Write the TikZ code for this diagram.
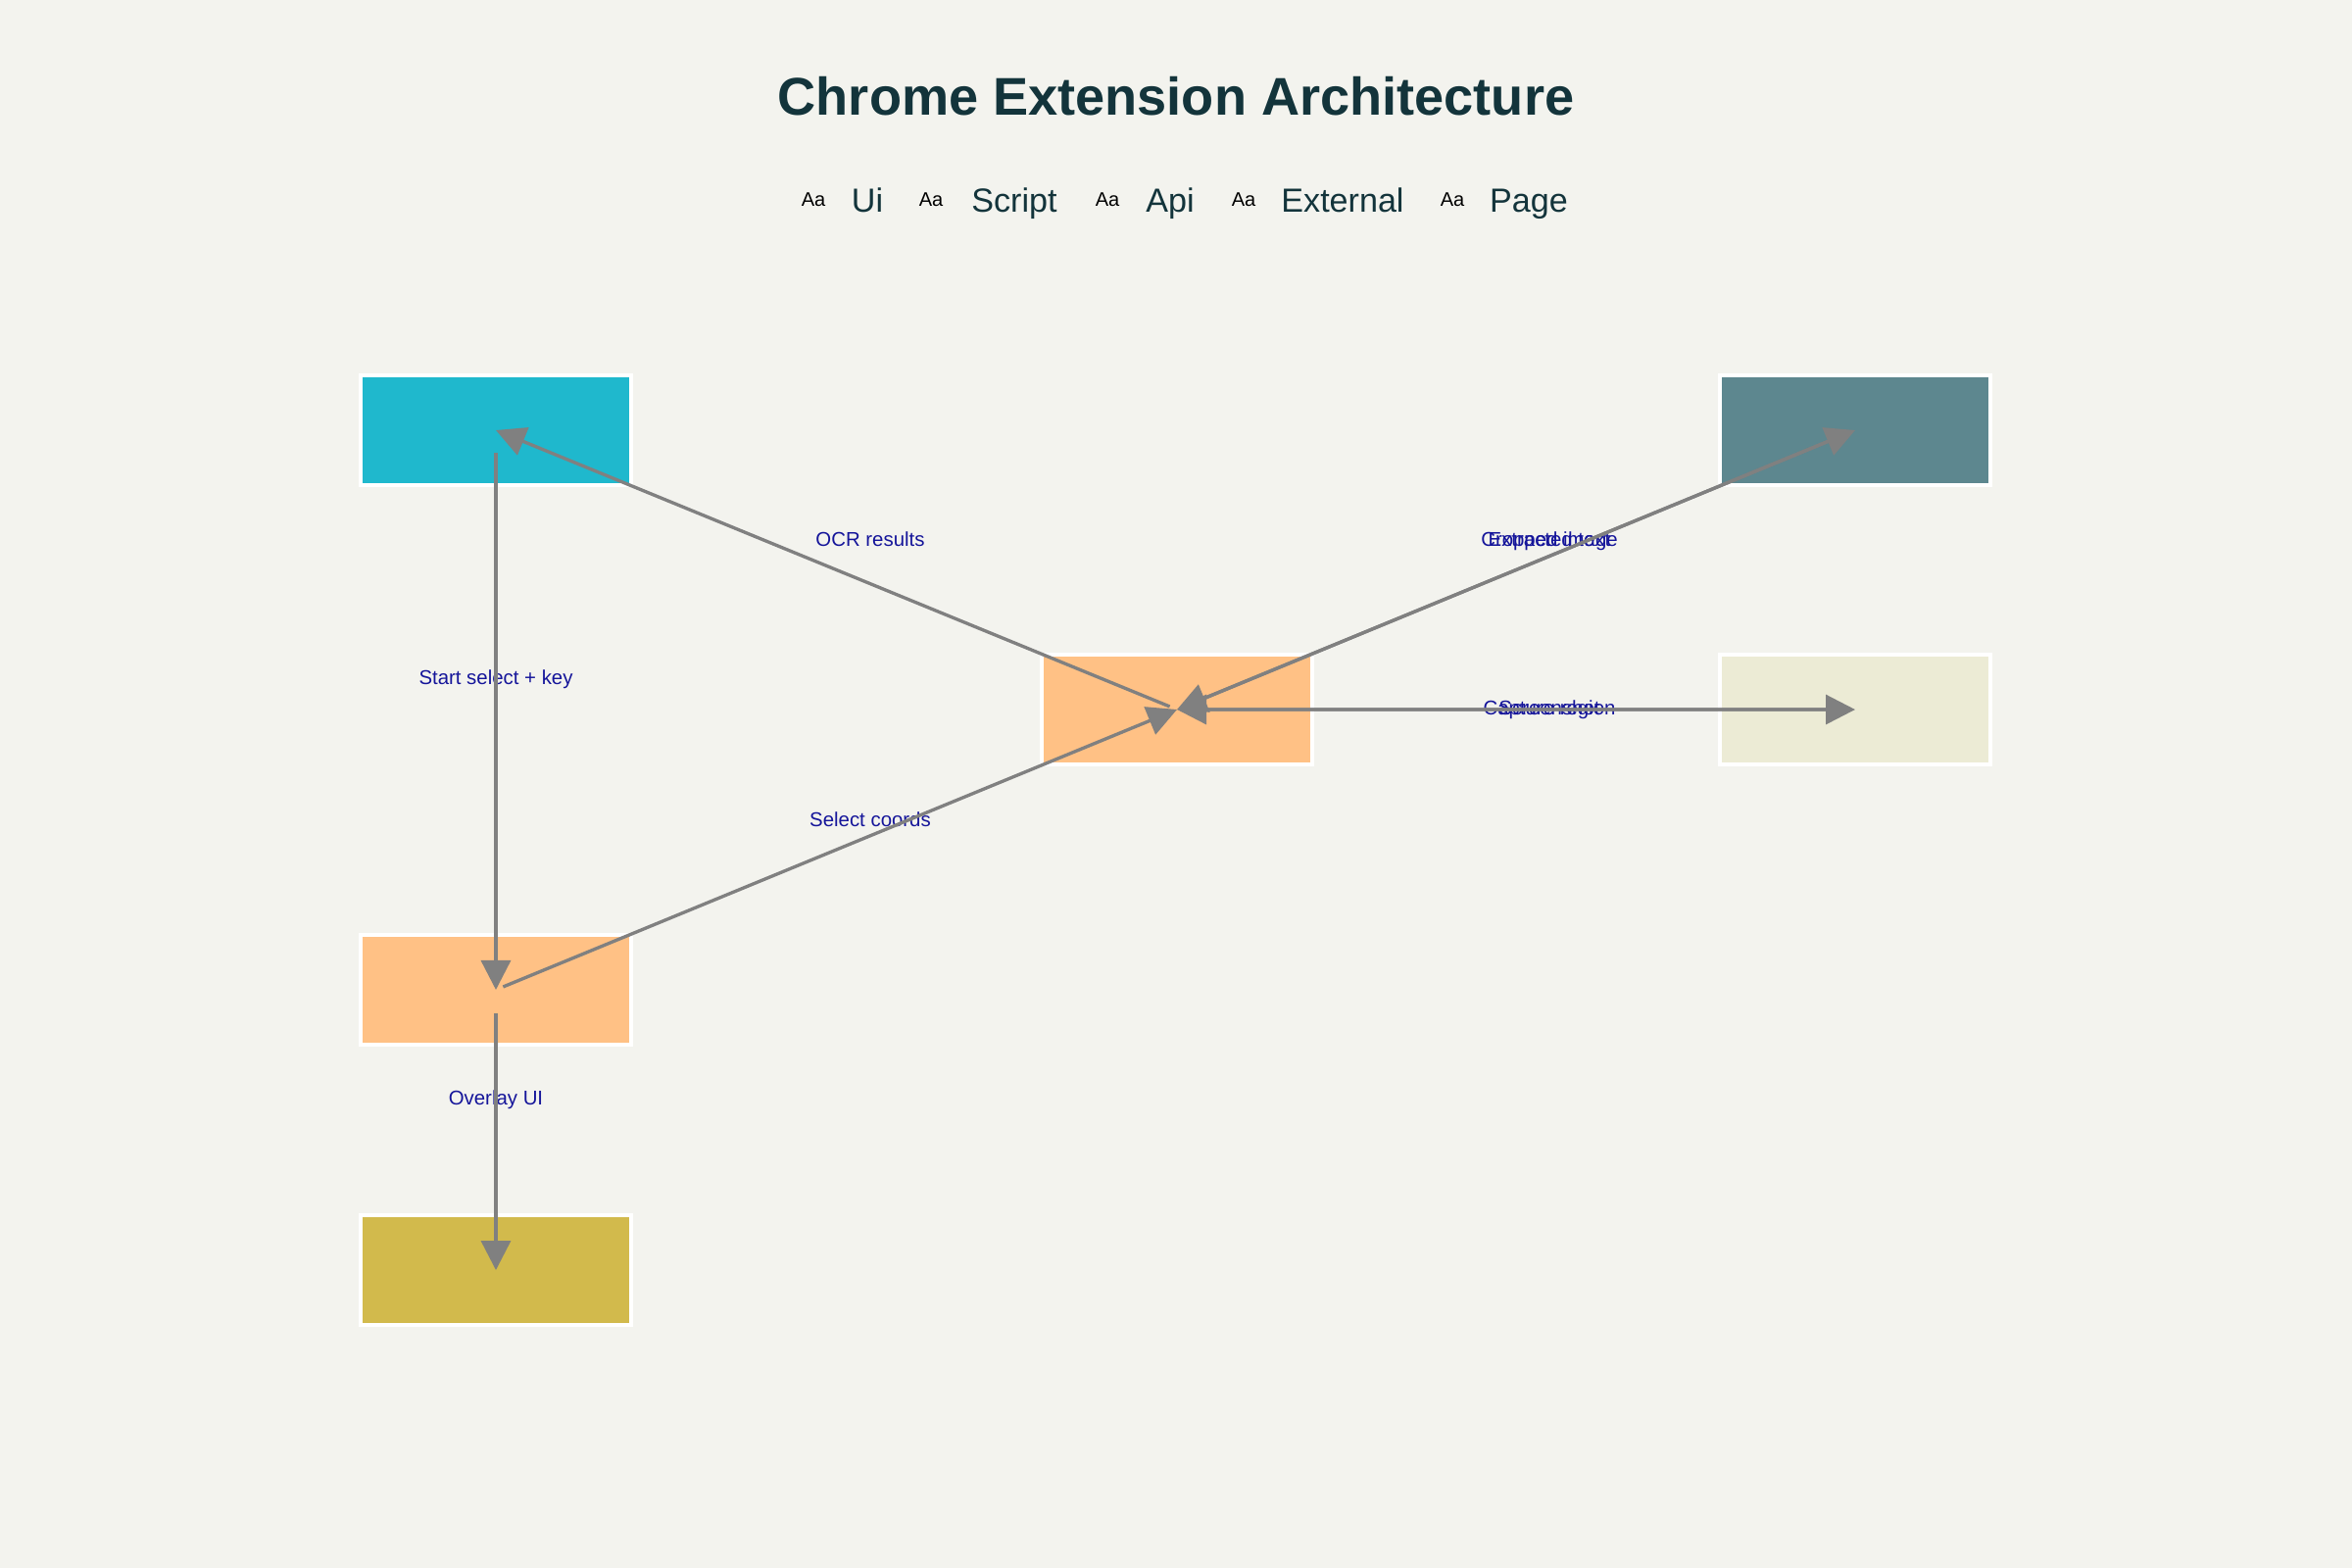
\documentclass[tikz,border=0pt]{standalone}
\usepackage{fontspec}
\setmainfont{Liberation Sans}
\usetikzlibrary{arrows.meta, positioning, calc}

\definecolor{bgcol}{HTML}{F3F3EE}
\definecolor{titlecol}{HTML}{13343B}
\definecolor{uicol}{HTML}{1FB8CD}
\definecolor{scriptcol}{HTML}{FFC185}
\definecolor{apicol}{HTML}{ECEBD5}
\definecolor{extcol}{HTML}{5D878F}
\definecolor{pagecol}{HTML}{D2BA4C}
\definecolor{flowcol}{HTML}{808080}
\definecolor{lblcol}{HTML}{15159A}

\begin{document}
\begin{tikzpicture}[x=0.01cm, y=-0.01cm, >={Triangle[length=0.3cm, width=0.3cm]}]
            % Page
            \fill[bgcol] (0,0) rectangle (2400,1600);
            \useasboundingbox (0,0) rectangle (2400,1600);

            % Styles
            \tikzstyle{box} = [rectangle, draw=white, line width=1.1pt, minimum width=2.76cm, minimum height=1.12cm, inner sep=0pt]
            \tikzstyle{lbl} = [text=lblcol, font=\fontsize{5.8}{7}\selectfont, inner sep=0pt]
            \tikzstyle{flow} = [->, draw=flowcol, fill=flowcol, line width=0.95pt]

            % Title and legend
            \node[text=titlecol, font=\bfseries\fontsize{15.4}{18}\selectfont] (title) at (1200,98) {Chrome Extension Architecture};
            \foreach \mx/\lx/\name in {830/885/Ui, 950/1035/Script, 1130/1194/Api, 1269/1370/External, 1482/1560/Page} {
                \node[anchor=base, font=\fontsize{5.7}{7}\selectfont, inner sep=0pt] (aa\name) at (\mx,210) {Aa};
                \node[anchor=base, text=titlecol, font=\fontsize{9.7}{12}\selectfont, inner sep=0pt] (leg\name) at (\lx,216) {\name};
            }

            % Blocks
            \node[box, fill=uicol] (popup) at (506,439) {};
            \node[box, fill=scriptcol] (content) at (506,1010) {};
            \node[box, fill=pagecol, below=1.7cm of content] (page) {};
            \node[box, fill=scriptcol] (bg) at (1201,724) {};
            \node[box, fill=extcol] (ocr) at (1893,439) {};
            \node[box, fill=apicol, below=1.69cm of ocr] (capture) {};

            % Labels
            \node[lbl] (lStart) at (506,693) {Start select + key};
            \node[lbl] (lOverlay) at (506,1122) {Overlay UI};
            \node[lbl] (lSelect) at (888,836) {Select coords};
            \node[lbl] (lOCR) at (888,550) {OCR results};
            \node[lbl, anchor=base] (lCrop) at (1581,557) {Cropped image};
            \node[lbl, anchor=base] (lText) at (1581,557) {Extracted text};
            \node[lbl, anchor=base] (lCapture) at (1581,729) {Capture region};
            \node[lbl, anchor=base] (lShot) at (1581,729) {Screenshot};

            % Lines
            \draw[flow, shorten <=0.23cm] (popup.center) -- (content.center);
            \draw[flow, shorten <=0.24cm] (content.center) -- (page.center);
            \draw[flow, shorten <=0.08cm] (content.center) -- (bg.center);
            \draw[flow, shorten <=0.08cm] (bg.center) -- (popup.center);
            \draw[flow, shorten <=0.08cm] (bg.center) -- (ocr.center);
            \draw[flow, shorten <=0.08cm] (ocr.center) -- (bg.center);
            \draw[flow, shorten <=0.08cm] (bg.center) -- (capture.center);
            \draw[flow, shorten <=0.08cm] (capture.center) -- (bg.center);
        \end{tikzpicture}
\end{document}
